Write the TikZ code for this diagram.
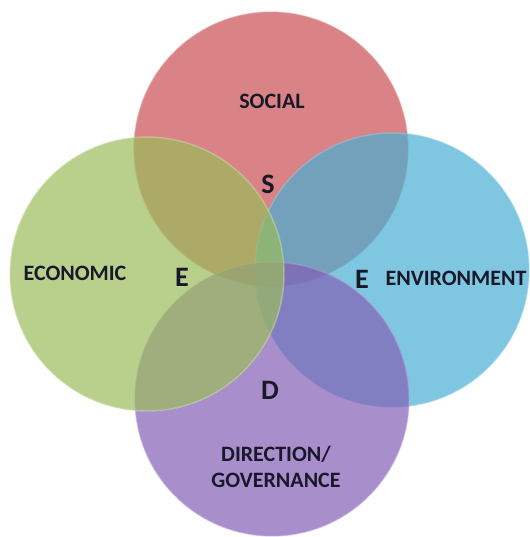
\documentclass[tikz,border=0pt]{standalone}
\usepackage{fontspec}
\setmainfont{Carlito}
\usetikzlibrary{positioning}

\definecolor{socialred}{RGB}{202,78,84}
\definecolor{econgreen}{RGB}{155,188,91}
\definecolor{envblue}{RGB}{72,174,211}
\definecolor{govpurple}{RGB}{131,95,182}
\definecolor{labelink}{RGB}{24,24,40}

\begin{document}
\begin{tikzpicture}[x=0.02cm,y=-0.02cm]
	% Define styles
	\tikzstyle{pillar} = [circle, minimum size=5.48cm, inner sep=0pt,
	fill opacity=0.7, draw opacity=0.5, line width=0.8pt]
	\tikzstyle{word} = [text=labelink, font=\bfseries\fontsize{12.5}{15}\selectfont,
	align=center, inner sep=0pt]
	\tikzstyle{letter} = [text=labelink, font=\bfseries\fontsize{16}{18}\selectfont, inner sep=0pt]
	
	\useasboundingbox (0,0) rectangle (530,537);
	
	% Place circles
	\node [pillar, fill=socialred, draw=socialred!60!white] (social) at (271,149) {};
	\node [pillar, fill=envblue, draw=envblue!60!white] (environment) at (392,270) {};
	\node [pillar, fill=govpurple, draw=govpurple!60!white] (governance) at (272,399) {};
	\node [pillar, fill=econgreen, draw=econgreen!50!white] (economic) at (147,274) {};
	
	% Place labels
	\node [word] (socialtext) at (272,101) {SOCIAL};
	\node [word] (econtext) at (75,273) {ECONOMIC};
	\node [word] (envtext) at (456,278) {ENVIRONMENT};
	\node [word] (govtext) at (276,467) {DIRECTION/\\GOVERNANCE};
	
	\node [letter] (s) at (268,184) {S};
	\node [letter] (eleft) at (182,277) {E};
	\node [letter] (eright) at (362,279) {E};
	\node [letter] (d) at (270,390) {D};
\end{tikzpicture}
\end{document}
